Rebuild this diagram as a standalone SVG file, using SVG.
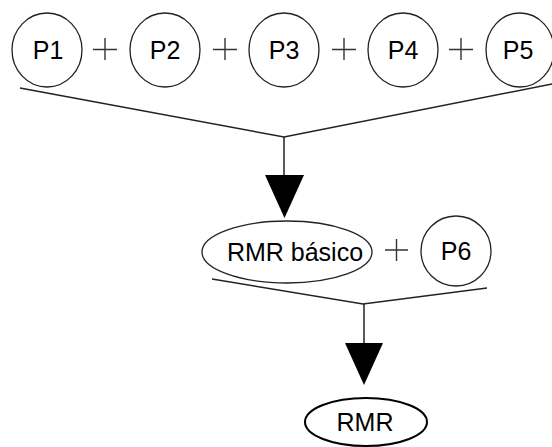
<svg xmlns="http://www.w3.org/2000/svg" width="552" height="447" viewBox="0 0 552 447">
  <style>
    .node { fill: #fff; stroke: #222; stroke-width: 1.3; }
    .thick { stroke: #000; stroke-width: 2; }
    .label { font-family: "Liberation Sans", Arial, sans-serif; font-size: 25px; fill: #000; text-anchor: middle; dominant-baseline: central; }
    .plus { stroke: #333; stroke-width: 1.4; fill: none; }
    .conn { stroke: #222; stroke-width: 1.5; fill: none; }
    .head { fill: #000; stroke: none; }
  </style>
  <rect width="552" height="447" fill="#fff"/>

  <g id="p1"><ellipse class="node" cx="47" cy="50" rx="35" ry="37"/><text class="label" x="48" y="50">P1</text></g>
  <g id="p2"><ellipse class="node" cx="165" cy="50" rx="35" ry="37"/><text class="label" x="165" y="50">P2</text></g>
  <g id="p3"><ellipse class="node" cx="284" cy="50" rx="35" ry="37"/><text class="label" x="284" y="50">P3</text></g>
  <g id="p4"><ellipse class="node" cx="403" cy="50" rx="35" ry="37"/><text class="label" x="403" y="50">P4</text></g>
  <g id="p5"><ellipse class="node" cx="520" cy="50" rx="34" ry="37"/><text class="label" x="518" y="50">P5</text></g>
  <g id="rmr-basico"><ellipse class="node" cx="287" cy="252" rx="85" ry="31"/><text class="label" x="295" y="252">RMR básico</text></g>
  <g id="p6"><ellipse class="node" cx="456" cy="251" rx="35" ry="35"/><text class="label" x="456" y="251">P6</text></g>
  <g id="rmr"><ellipse class="node thick" cx="366" cy="422" rx="61" ry="24"/><text class="label" x="365" y="422">RMR</text></g>

  <g id="plus-signs">
    <path class="plus" d="M93 49.5H117M105 38V60"/>
    <path class="plus" d="M213 49.5H237M225 38V60"/>
    <path class="plus" d="M332 49.5H356M344 38V60"/>
    <path class="plus" d="M449 49.5H473M461 38V60"/>
    <path class="plus" d="M385 250H408M396.5 239V261"/>
  </g>

  <g id="connectors">
    <path class="conn" d="M20 88L284 137L552 84"/>
    <path class="conn" d="M284 137V176"/>
    <polygon class="head" points="265,175 304,175 284.5,218"/>
    <path class="conn" d="M212 279L363 304L487 288"/>
    <path class="conn" d="M364 304V344"/>
    <polygon class="head" points="345,343 383,343 364,385"/>
  </g>
</svg>
